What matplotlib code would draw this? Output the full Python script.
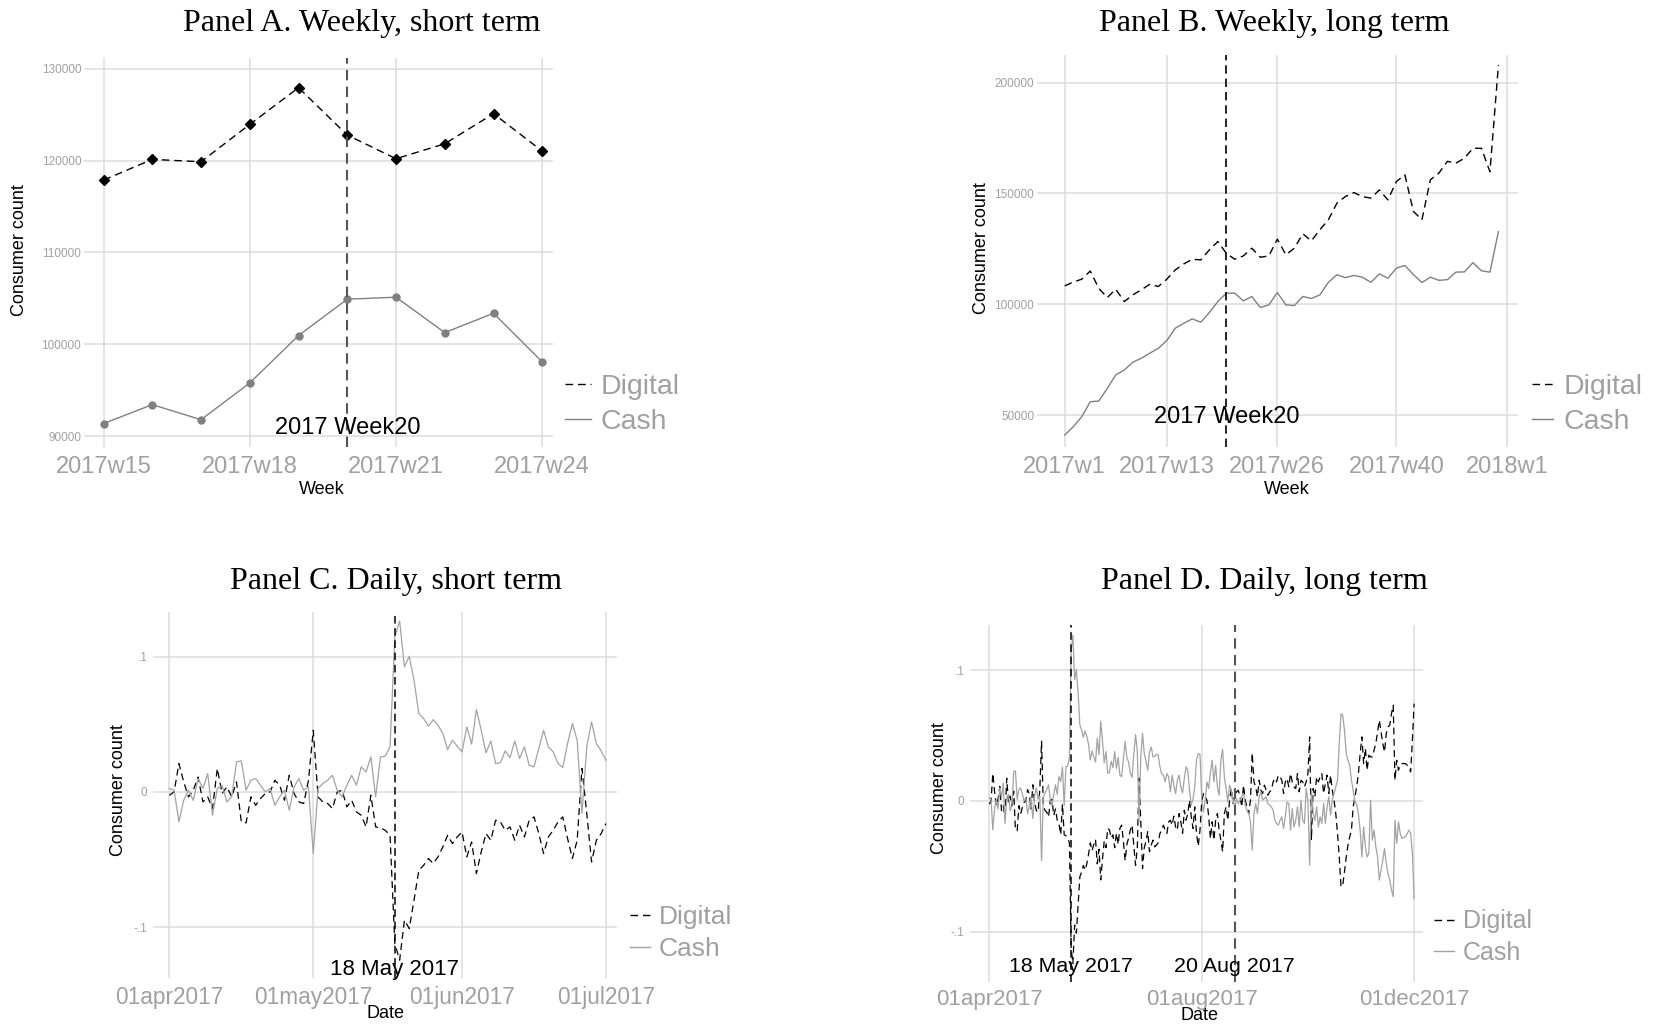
import matplotlib
matplotlib.use("Agg")
import matplotlib.pyplot as plt
from matplotlib.lines import Line2D
import numpy as np
import pandas as pd

# ---------------- data ----------------
# Panel A: weekly, short term (2017 weeks 15-24)
weeks_a = [15, 16, 17, 18, 19, 20, 21, 22, 23, 24]
digital_a = [117890, 120150, 119890, 123960, 127960, 122800, 120220, 121850, 125130, 121050]
cash_a = [91350, 93420, 91780, 95780, 100950, 104910, 105130, 101270, 103380, 98070]
xticks_a = [15, 18, 21, 24]
xticklabels_a = ["2017w15", "2017w18", "2017w21", "2017w24"]
yticks_a = [90000, 100000, 110000, 120000, 130000]

# Panel B: weekly, long term (2017 weeks 1-52)
weeks_b = list(range(1, 53))
digital_b = [108300, 110000, 111300, 115000, 107200, 103000, 106800, 101200, 104200, 106500,
             109000, 108000, 111300, 115500, 118200, 120300, 120000, 124500, 128300, 123000,
             120300, 121800, 125300, 121200, 121800, 129400, 122300, 125300, 131800, 128600,
             133600, 138100, 145600, 148600, 150400, 148600, 147900, 151600, 147100, 155400,
             158400, 141900, 138100, 156200, 159200, 164500, 163700, 165900, 170400, 170400,
             159800, 208000]
cash_b = [40950, 44700, 49200, 56000, 56300, 62000, 68100, 70300, 73800, 75600,
          77900, 80100, 83600, 89200, 91400, 93400, 91900, 96200, 101200, 105000,
          105000, 101500, 103500, 98500, 99700, 105300, 99700, 99400, 103500, 102600,
          104200, 109900, 113300, 112000, 113000, 112200, 109900, 113700, 111700, 116300,
          117500, 113400, 109800, 112200, 110800, 111100, 114500, 114600, 118800, 115100,
          114500, 132800]
xticks_b = [1, 13, 26, 40, 53]
xticklabels_b = ["2017w1", "2017w13", "2017w26", "2017w40", "2018w1"]
yticks_b = [50000, 100000, 150000, 200000]

# Daily series, 01apr2017 - 01jul2017 (Panel C, also start of Panel D)
digital_apr_jul = [-0.0025, 0.0, 0.021, 0.0074, -0.0037, 0.0012, 0.011, -0.0074, -0.0037, -0.0123,
                   0.0173, -0.0012, 0.0037, -0.0037, 0.0074, -0.0222, -0.0229, -0.0037, -0.0099, -0.0049,
                   -0.0012, 0.0, 0.0086, 0.0049, -0.0062, 0.0123, -0.0012, -0.0074, -0.0086, 0.0086,
                   0.0456, -0.0037, -0.0074, -0.0086, -0.0123, 0.0, 0.0012, -0.0111, -0.0062, -0.0148,
                   -0.0173, -0.0259, -0.0025, -0.0259, -0.0266, -0.0284, -0.0321, -0.1122, -0.1245, -0.0949,
                   -0.1011, -0.0801, -0.058, -0.0543, -0.0493, -0.053, -0.0481, -0.0407, -0.0321, -0.0382,
                   -0.0333, -0.0296, -0.0481, -0.037, -0.0604, -0.0444, -0.0308, -0.0358, -0.021, -0.0222,
                   -0.0284, -0.0259, -0.0358, -0.0247, -0.0333, -0.021, -0.0185, -0.0308, -0.0456, -0.0333,
                   -0.0284, -0.0222, -0.0185, -0.0345, -0.0493, -0.0358, 0.0173, -0.016, -0.0518, -0.0358,
                   -0.0308, -0.0234]
cash_apr_jul = [0.0025, 0.0012, -0.0222, -0.0062, 0.0012, -0.0062, 0.0099, 0.0025, 0.0136, -0.0173,
                0.0025, 0.0049, -0.0074, -0.0037, 0.0222, 0.0229, 0.0012, 0.0086, 0.0099, 0.0049,
                0.0, 0.0025, -0.0099, -0.0037, 0.0012, -0.0136, 0.0037, 0.0099, 0.0012, 0.0037,
                -0.0456, 0.0025, 0.0062, 0.0086, 0.0123, 0.0012, -0.0037, 0.0049, 0.0123, 0.0049,
                0.0185, 0.0148, 0.0259, -0.0037, 0.0259, 0.0264, 0.0333, 0.1147, 0.1265, 0.0925,
                0.1004, 0.0826, 0.058, 0.0543, 0.0486, 0.0535, 0.0493, 0.0432, 0.0313, 0.0382,
                0.0338, 0.0296, 0.0481, 0.0353, 0.0609, 0.0456, 0.0289, 0.0377, 0.021, 0.0217,
                0.0303, 0.0254, 0.0377, 0.0247, 0.0333, 0.0197, 0.0185, 0.0321, 0.0456, 0.0333,
                0.0296, 0.021, 0.018, 0.0358, 0.0506, 0.0382, -0.016, 0.0333, 0.0518, 0.0358,
                0.0303, 0.0234]

# Daily series, 02jul2017 - 01dec2017 (rest of Panel D)
digital_jul_dec = [-0.0389, -0.0338, -0.0300, -0.0351, -0.0338, -0.0321, -0.0249, -0.0224, -0.0186, -0.0224,
                   -0.0249, -0.0160, -0.0148, -0.0186, -0.0117, -0.0199, -0.0224, -0.0097, -0.0160, -0.0249,
                   -0.0071, -0.0148, -0.0097, 0.0005, -0.0122, -0.0211, -0.0046, -0.0249, -0.0346, -0.0224,
                   -0.0008, 0.0056, 0.0031, 0.0005, -0.0122, -0.0288, -0.0160, -0.0300, -0.0148, -0.0097,
                   -0.0224, -0.0300, -0.0389, -0.0097, -0.0046, -0.0148, 0.0005, 0.0094, -0.0020, 0.0043,
                   0.0069, 0.0081, 0.0031, -0.0046, 0.0120, 0.0005, -0.0046, -0.0097, 0.0005, 0.0366,
                   0.0145, 0.0107, 0.0031, 0.0158, 0.0081, 0.0056, 0.0120, 0.0081, 0.0043, 0.0069,
                   0.0081, 0.0145, 0.0171, 0.0145, 0.0196, 0.0183, 0.0158, 0.0056, 0.0145, 0.0171,
                   0.0107, 0.0209, 0.0145, 0.0107, 0.0094, 0.0209, 0.0069, 0.0158, 0.0145, 0.0107,
                   0.0145, 0.0209, 0.0489, -0.0300, 0.0094, 0.0031, 0.0183, 0.0145, 0.0183, 0.0209,
                   0.0056, 0.0132, 0.0196, 0.0056, 0.0196, 0.0081, 0.0005, -0.0097, -0.0249, -0.0428,
                   -0.0657, -0.0644, -0.0542, -0.0428, -0.0338, -0.0275, -0.0224, -0.0046, 0.0031, 0.0107,
                   0.0209, 0.0361, 0.0489, 0.0285, 0.0400, 0.0234, 0.0349, 0.0336, 0.0336, 0.0387,
                   0.0438, 0.0527, 0.0616, 0.0527, 0.0438, 0.0374, 0.0514, 0.0565, 0.0578, 0.0667,
                   0.0730, 0.0158, 0.0310, 0.0234, 0.0272, 0.0285, 0.0285, 0.0285, 0.0272, 0.0260,
                   0.0221, 0.0463, 0.0743]
cash_jul_dec = [0.0374, 0.0412, 0.0336, 0.0341, 0.0356, 0.0349, 0.0260, 0.0209, 0.0196, 0.0145,
                0.0209, 0.0183, 0.0069, 0.0196, 0.0120, 0.0056, 0.0158, 0.0196, 0.0107, 0.0061,
                0.0171, 0.0260, 0.0234, 0.0081, -0.0033, 0.0018, 0.0107, 0.0310, 0.0361, 0.0356,
                0.0018, -0.0084, 0.0005, 0.0145, 0.0094, 0.0221, 0.0310, 0.0145, 0.0272, 0.0107,
                0.0043, 0.0310, 0.0394, 0.0183, 0.0094, -0.0008, 0.0120, 0.0081, 0.0005, -0.0046,
                0.0018, -0.0020, 0.0005, 0.0031, 0.0056, -0.0033, -0.0071, -0.0097, -0.0160, -0.0377,
                -0.0097, -0.0020, -0.0097, 0.0031, 0.0069, 0.0005, 0.0018, 0.0031, -0.0020, -0.0033,
                -0.0046, -0.0071, -0.0148, -0.0173, -0.0186, -0.0148, -0.0122, -0.0211, -0.0122, -0.0008,
                -0.0020, -0.0224, -0.0059, -0.0199, -0.0148, -0.0046, -0.0199, 0.0005, -0.0148, -0.0173,
                0.0094, 0.0005, -0.0491, 0.0081, -0.0097, -0.0148, -0.0046, -0.0199, -0.0122, -0.0173,
                -0.0020, -0.0173, -0.0046, 0.0031, -0.0109, 0.0005, 0.0056, 0.0107, 0.0158, 0.0438,
                0.0667, 0.0654, 0.0540, 0.0361, 0.0310, 0.0272, 0.0158, 0.0081, -0.0008, -0.0025,
                -0.0097, -0.0224, -0.0428, -0.0199, -0.0351, -0.0428, -0.0402, 0.0005, -0.0300, -0.0224,
                -0.0351, -0.0428, -0.0606, -0.0529, -0.0453, -0.0364, -0.0478, -0.0555, -0.0606, -0.0682,
                -0.0733, -0.0148, -0.0326, -0.0160, -0.0249, -0.0288, -0.0280, -0.0275, -0.0249, -0.0224,
                -0.0249, -0.0402, -0.0746]

daily_start = "2017-04-01"
xticks_c = ["2017-04-01", "2017-05-01", "2017-06-01", "2017-07-01"]
xticklabels_c = ["01apr2017", "01may2017", "01jun2017", "01jul2017"]
xticks_d = ["2017-04-01", "2017-08-01", "2017-12-01"]
xticklabels_d = ["01apr2017", "01aug2017", "01dec2017"]
yticks_daily = [-0.1, 0.0, 0.1]
yticklabels_daily = ["-.1", "0", ".1"]

event_week = 20
event_day = "2017-05-18"
second_day = "2017-08-20"

# ---------------- figure ----------------
W, H = 1657, 1024
fig = plt.figure(figsize=(W / 100, H / 100), dpi=100)
fig.patch.set_facecolor("white")

SANS = "Liberation Sans"
SERIF = "Liberation Serif"
TICK_GRAY = "#a0a0a0"
GRID = "#dcdcdc"
CASH_DARK = "#808080"
CASH_LIGHT = "#a3a3a3"
DASH = (5.5, 3.5)


def add_ax(l, t, r, b):
    return fig.add_axes([l / W, 1 - b / H, (r - l) / W, (b - t) / H])


def style(ax, xfs, yfs=8.5, xpad=7, ypad=2):
    for s in ax.spines.values():
        s.set_visible(False)
    ax.tick_params(axis="both", length=0, colors=TICK_GRAY)
    ax.tick_params(axis="x", labelsize=xfs, pad=xpad)
    ax.tick_params(axis="y", labelsize=yfs, pad=ypad)
    for lab in ax.get_xticklabels() + ax.get_yticklabels():
        lab.set_fontfamily(SANS)
    ax.grid(True, color=GRID, lw=1.1)
    ax.set_axisbelow(True)
    ax.set_facecolor("white")


def legend(ax, x_line, y_mid, fs, handlelen, dark_cash, spacing=0.33):
    handles = [Line2D([], [], color="black", lw=1, ls=(0, DASH)),
               Line2D([], [], color=CASH_LIGHT if not dark_cash else CASH_DARK, lw=1)]
    leg = ax.legend(handles, ["Digital", "Cash"], loc="center left",
                    bbox_to_anchor=(x_line / W, 1 - y_mid / H),
                    bbox_transform=fig.transFigure, frameon=False,
                    prop={"family": SANS, "size": fs}, labelcolor=TICK_GRAY,
                    handlelength=handlelen, handletextpad=0.35, labelspacing=spacing,
                    borderpad=0, borderaxespad=0)
    return leg


def title(x, y, s):
    fig.text(x / W, 1 - y / H, s, family=SERIF, fontsize=23, ha="center", va="center")


def label(x, y, s, rot=0, fs=13):
    fig.text(x / W, 1 - y / H, s, family=SANS, fontsize=fs, ha="center", va="center",
             rotation=rot)


# ----- Panel A -----
axA = add_ax(84, 58.3, 553, 446.7)
axA.plot(weeks_a, digital_a, color="black", lw=1, ls=(0, DASH), marker="D", ms=5.5)
axA.plot(weeks_a, cash_a, color=CASH_DARK, lw=1, marker="o", ms=5)
axA.axvline(event_week, color="#555555", lw=1.5, ls=(0, (5, 3)))
axA.set_xlim(14.60, 24.22)
axA.set_ylim(88834, 131166)
axA.set_xticks(xticks_a)
axA.set_xticklabels(xticklabels_a)
axA.set_yticks(yticks_a)
axA.set_yticklabels([str(v) for v in yticks_a])
style(axA, 17)
axA.text(event_week, 0.047, "2017 Week20", transform=axA.get_xaxis_transform(),
         family=SANS, fontsize=17, ha="center", va="center")
legend(axA, 565, 404.5, 20.5, 0.9, True)
title(362, 23, "Panel A. Weekly, short term")
label(20, 250, "Consumer count", rot=90)
label(322, 490, "Week")

# ----- Panel B -----
axB = add_ax(1037, 55, 1518, 446.7)
axB.plot(weeks_b, digital_b, color="black", lw=1, ls=(0, DASH))
axB.plot(weeks_b, cash_b, color=CASH_DARK, lw=1)
axB.axvline(event_week, color="black", lw=1.2, ls=(0, (5, 3)))
axB.set_xlim(-2.26, 54.3)
axB.set_ylim(35700, 212500)
axB.set_xticks(xticks_b)
axB.set_xticklabels(xticklabels_b)
axB.set_yticks(yticks_b)
axB.set_yticklabels([str(v) for v in yticks_b])
style(axB, 17)
axB.text(event_week, 0.075, "2017 Week20", transform=axB.get_xaxis_transform(),
         family=SANS, fontsize=17, ha="center", va="center")
legend(axB, 1532, 404.5, 20.5, 0.75, True)
title(1274, 23, "Panel B. Weekly, long term")
label(981, 248, "Consumer count", rot=90)
label(1287, 490, "Week")

# ----- Panel C -----
dates_c = pd.date_range(daily_start, periods=len(digital_apr_jul), freq="D")
axC = add_ax(153, 612, 617, 978)
axC.plot(dates_c, digital_apr_jul, color="black", lw=0.9, ls=(0, DASH))
axC.plot(dates_c, cash_apr_jul, color=CASH_LIGHT, lw=0.9)
axC.axvline(pd.Timestamp(event_day), color="black", lw=1.1, ls=(0, (5, 3)))
t0 = pd.Timestamp(daily_start)
axC.set_xlim(t0 - pd.Timedelta(days=3.4), t0 + pd.Timedelta(days=93.3))
axC.set_ylim(-0.1377, 0.1331)
axC.set_xticks([pd.Timestamp(d) for d in xticks_c])
axC.set_xticklabels(xticklabels_c)
axC.set_yticks(yticks_daily)
axC.set_yticklabels(yticklabels_daily)
style(axC, 16.3, ypad=4, xpad=6)
axC.text(pd.Timestamp(event_day), 0.022, "18 May 2017", transform=axC.get_xaxis_transform(),
         family=SANS, fontsize=16, ha="center", va="center")
legend(axC, 630, 933, 19, 0.75, False, spacing=0.3)
title(396, 581, "Panel C. Daily, short term")
label(119, 790, "Consumer count", rot=90)
label(386, 1013, "Date")

# ----- Panel D -----
digital_d = digital_apr_jul + digital_jul_dec
cash_d = cash_apr_jul + cash_jul_dec
dates_d = pd.date_range(daily_start, periods=len(digital_d), freq="D")
axD = add_ax(970, 625, 1423, 981.7)
axD.plot(dates_d, digital_d, color="black", lw=0.9, ls=(0, DASH))
axD.plot(dates_d, cash_d, color=CASH_LIGHT, lw=0.9)
axD.axvline(pd.Timestamp(event_day), color="black", lw=1.1, ls=(0, (5, 3)))
axD.axvline(pd.Timestamp(second_day), color="#555555", lw=1.5, ls=(0, (5, 3)))
axD.set_xlim(t0 - pd.Timedelta(days=11.1), t0 + pd.Timedelta(days=249.1))
axD.set_ylim(-0.1382, 0.1344)
axD.set_xticks([pd.Timestamp(d) for d in xticks_d])
axD.set_xticklabels(xticklabels_d)
axD.set_yticks(yticks_daily)
axD.set_yticklabels(yticklabels_daily)
style(axD, 16, ypad=4, xpad=5)
axD.text(pd.Timestamp(event_day), 0.042, "18 May 2017", transform=axD.get_xaxis_transform(),
         family=SANS, fontsize=15.4, ha="center", va="center")
axD.text(pd.Timestamp(second_day), 0.042, "20 Aug 2017", transform=axD.get_xaxis_transform(),
         family=SANS, fontsize=15.4, ha="center", va="center")
legend(axD, 1434, 937, 18, 0.8, False, spacing=0.3)
title(1264, 581, "Panel D. Daily, long term")
label(940, 788, "Consumer count", rot=90)
label(1200, 1016, "Date")

fig.savefig("out.png", dpi=100, facecolor="white")
